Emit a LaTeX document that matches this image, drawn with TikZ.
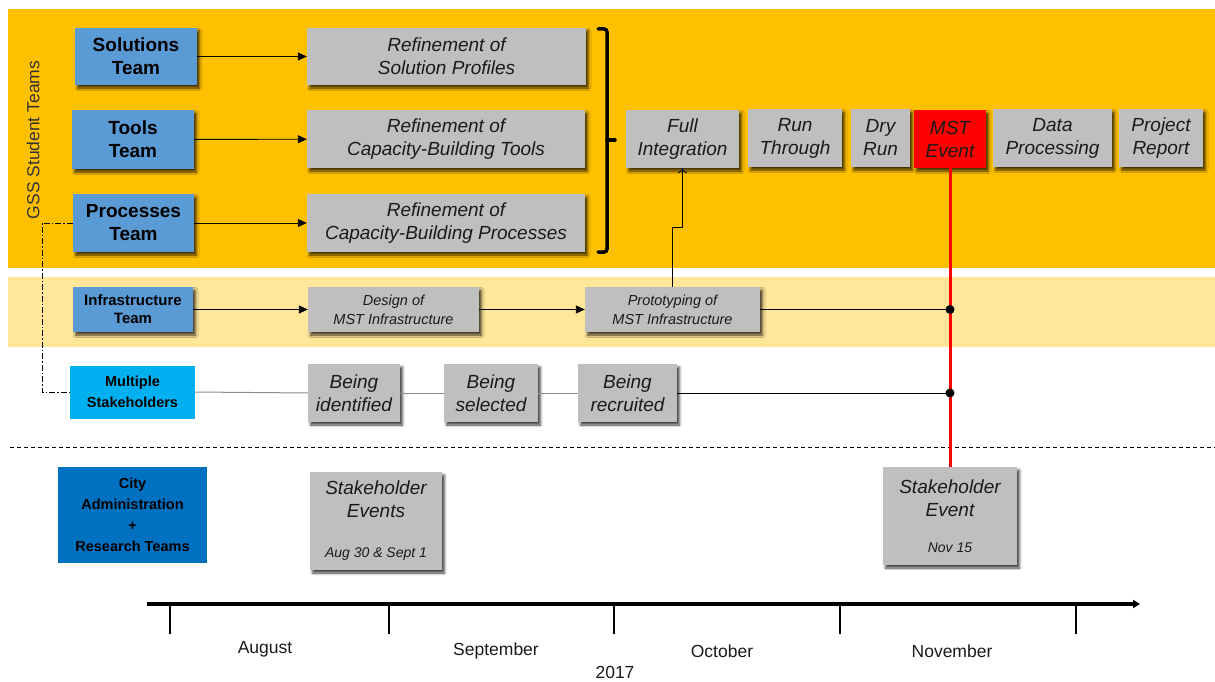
\documentclass[tikz,border=0pt]{standalone}
\usepackage{fontspec}
\setmainfont{Liberation Sans}
\usetikzlibrary{arrows.meta,shadows.blur}

\definecolor{bandorange}{HTML}{FFC000}
\definecolor{bandlight}{HTML}{FFE699}
\definecolor{teamblue}{HTML}{5B9BD5}
\definecolor{stakecyan}{HTML}{00B0F0}
\definecolor{cityblue}{HTML}{0070C0}
\definecolor{taskgray}{HTML}{BFBFBF}
\definecolor{eventred}{HTML}{FF0000}
\definecolor{ink}{HTML}{1A1A1A}

\begin{document}
\begin{tikzpicture}[x=1pt,y=-1pt,
  sh/.style={blur shadow={shadow xshift=2.5pt, shadow yshift=-3pt,
      shadow blur radius=2.5pt, shadow opacity=75}},
  box/.style={rectangle, inner sep=1pt, align=center, text=ink},
  teambox/.style={box, fill=teamblue, sh, text=black,
      font=\bfseries\fontsize{19}{23}\selectfont},
  smallteam/.style={box, fill=teamblue, sh, text=black,
      font=\bfseries\fontsize{15}{18}\selectfont},
  taskbox/.style={box, fill=taskgray, sh,
      font=\itshape\fontsize{19}{23}\selectfont},
  smalltask/.style={box, fill=taskgray, sh,
      font=\itshape\fontsize{14.5}{19}\selectfont},
  flow/.style={line width=0.9pt, -{Triangle[length=9pt,width=8pt]}},
  month/.style={font=\fontsize{17.5}{20}\selectfont, text=ink},
]
\useasboundingbox (0,0) rectangle (1215,682);

% background bands
\fill[bandorange] (8,9) rectangle (1215,268);
\fill[bandlight] (8,277) rectangle (1215,347);

% separator between student teams and city teams
\coordinate (sepL) at (10,447);
\coordinate (sepR) at (1215,447);
\draw[line width=1pt, dash pattern=on 4pt off 3pt] (sepL) -- (sepR);

\node[rotate=90, font=\fontsize{17.5}{20}\selectfont, text=black!80] (gss) at (33,140) {GSS Student Teams};

% team boxes
\node[teambox, minimum width=122pt, minimum height=57pt] (sol) at (136,56.5) {Solutions\\Team};
\node[teambox, minimum width=122pt, minimum height=59pt] (tools) at (133,139.5) {Tools\\Team};
\node[teambox, minimum width=121pt, minimum height=58pt] (proc) at (133.5,223) {Processes\\Team};
\node[smallteam, minimum width=120pt, minimum height=45pt] (infra) at (133,309.5) {Infrastructure\\Team};
\node[box, fill=stakecyan, text=black, minimum width=125pt, minimum height=53pt,
      font=\bfseries\fontsize{14.5}{21}\selectfont] (multi) at (132.5,392) {Multiple\\Stakeholders};
\node[box, fill=cityblue, text=black, minimum width=149pt, minimum height=96pt,
      font=\bfseries\fontsize{14.5}{21}\selectfont] (city) at (132.5,515) {City\\Administration\\+\\Research Teams};

% refinement tasks
\node[taskbox, minimum width=279pt, minimum height=57pt] (r1) at (446.5,56.5) {Refinement of\\Solution Profiles};
\node[taskbox, minimum width=278pt, minimum height=58pt] (r2) at (446,139) {Refinement of\\Capacity-Building Tools};
\node[taskbox, minimum width=278pt, minimum height=58pt] (r3) at (446,223) {Refinement of\\Capacity-Building Processes};

% bracket collecting the refinements
\draw[line width=3.5pt, rounded corners=3pt, line cap=round]
  (598,29) -- (607,29) -- (607,252) -- (598,252);
\draw[line width=3.5pt, line cap=round] (607,140) -- (615,140);

% project sequence
\node[taskbox, minimum width=113pt, minimum height=58pt] (full) at (682.5,139) {Full\\Integration};
\node[taskbox, minimum width=94pt, minimum height=58pt] (run) at (795,138) {Run\\Through};
\node[taskbox, minimum width=59pt, minimum height=58pt] (dry) at (880.5,138) {Dry\\Run};
\node[taskbox, fill=eventred, minimum width=72pt, minimum height=58pt] (mst) at (950,139) {MST\\Event};
\node[taskbox, minimum width=119pt, minimum height=58pt] (data) at (1052.5,138) {Data\\Processing};
\node[taskbox, minimum width=84pt, minimum height=58pt] (report) at (1161,138) {Project\\Report};

% infrastructure tasks
\node[smalltask, minimum width=171pt, minimum height=45pt] (design) at (393.5,309.5) {Design of\\MST Infrastructure};
\node[smalltask, minimum width=175pt, minimum height=45pt] (proto) at (672.5,309.5) {Prototyping of\\MST Infrastructure};

% stakeholder stages
\node[taskbox, minimum width=92pt, minimum height=58pt] (ident) at (354,393) {Being\\identified};
\node[taskbox, minimum width=94pt, minimum height=58pt] (select) at (491,393) {Being\\selected};
\node[taskbox, minimum width=99pt, minimum height=58pt] (recruit) at (627.5,393) {Being\\recruited};

% stakeholder events
\node[taskbox, minimum width=132pt, minimum height=98pt] (sev1) at (376,521)
  {Stakeholder\\Events\\[17pt]{\fontsize{14}{16}\selectfont Aug 30 \& Sept 1}};
\node[taskbox, minimum width=134pt, minimum height=98pt] (sev2) at (950,516)
  {Stakeholder\\Event\\[13pt]{\fontsize{14}{16}\selectfont Nov 15}};

% connectors
\draw[flow] (sol) -- (r1);
\draw[flow] (tools) -- (r2);
\draw[flow] (proc) -- (r3);
\draw[flow] (infra) -- (design);
\draw[flow] (design) -- (proto);

\coordinate (jog) at (672.5,227);
\draw[line width=0.9pt, -{To[length=5pt,width=9pt]}] (proto.north) -- (jog) -| (full.south);

\coordinate (dd) at (42,223);
\draw[line width=0.8pt, dash pattern=on 6pt off 2pt on 1.5pt off 2pt]
  (proc.west) -- (dd) |- (multi.west);

\draw[line width=1pt, black!45] (multi.east) -- (ident.west);
\draw[line width=1pt, black!45] (ident.east) -- (select.west);
\draw[line width=1pt, black!45] (select.east) -- (recruit.west);

\draw[line width=3pt, eventred] (mst.south) -- (sev2.north);
\coordinate (d1) at (mst.south |- proto.east);
\coordinate (d2) at (mst.south |- recruit.east);
\draw[line width=1pt] (proto.east) -- (d1);
\draw[line width=1pt] (recruit.east) -- (d2);
\fill (d1) circle (4.5pt);
\fill (d2) circle (4.5pt);

% timeline
\coordinate (t0) at (147,604);
\coordinate (t1) at (1140,604);
\draw[line width=4pt, -{Triangle[length=7pt,width=8pt]}] (t0) -- (t1);
\foreach \x in {170,389,614,840,1076}
  \draw[line width=2.5pt] (\x,604) -- (\x,634);

\node[month] (aug) at (265,649) {August};
\node[month] (sep) at (496,651) {September};
\node[month] (oct) at (722,651) {October};
\node[month] (nov) at (952,651) {November};
\node[month] (year) at (615,672) {2017};
\end{tikzpicture}
\end{document}
